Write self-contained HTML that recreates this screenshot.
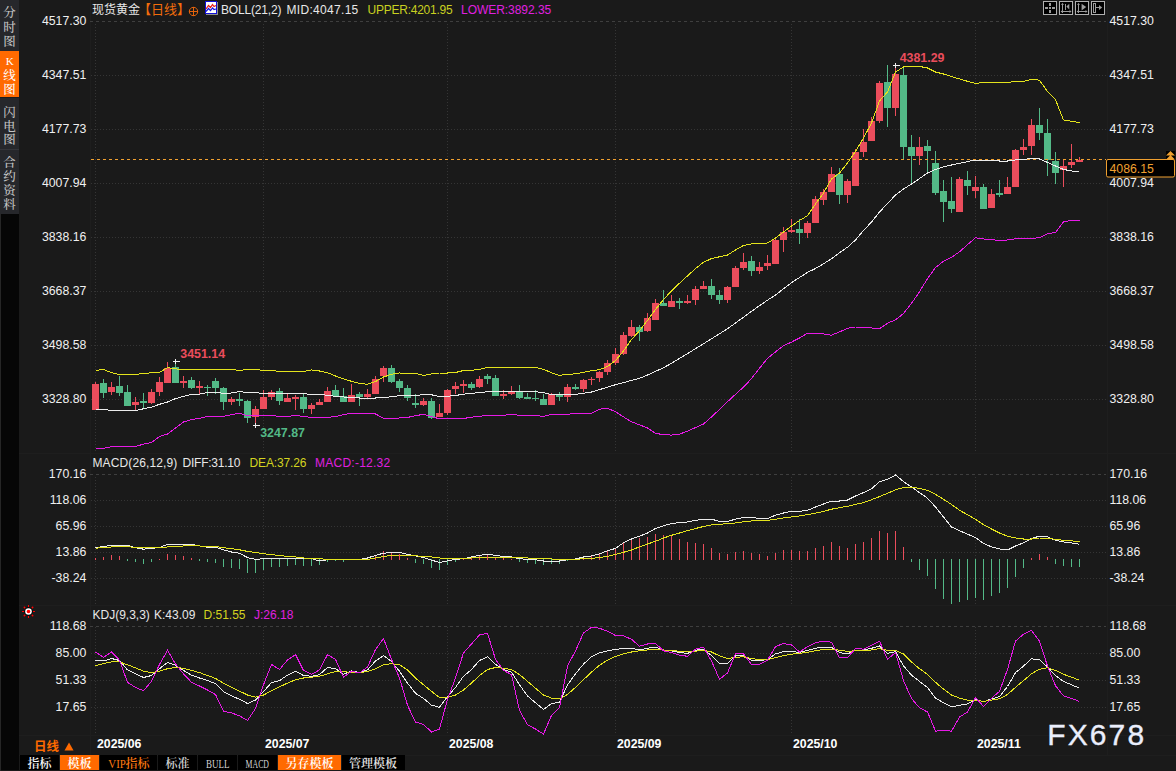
<!DOCTYPE html>
<html><head><meta charset="utf-8"><title>现货黄金 日线</title>
<style>
html,body{margin:0;padding:0;background:#1a1a1a;}
body{width:1176px;height:771px;overflow:hidden;position:relative;font-family:"Liberation Sans","Noto Sans CJK SC",sans-serif;}
svg{position:absolute;left:0;top:0;display:block}
text{font-family:"Liberation Sans","Noto Sans CJK SC",sans-serif;font-size:12px;fill:#e6e6e6}
.ax{font-size:12.3px;fill:#ececec}
.b{font-weight:bold}
.cj{font-family:"Liberation Sans","Noto Sans CJK SC",sans-serif}
.sv{font-family:"Liberation Serif","Noto Serif CJK SC",serif;font-size:12.5px;fill:#c4c4c4;text-anchor:middle;font-weight:500}
.tb{font-family:"Liberation Serif","Noto Serif CJK SC",serif;font-size:12px;text-anchor:middle;font-weight:600}
.mono{font-family:"Liberation Serif","Noto Serif CJK SC",serif;font-size:13px}
</style></head><body>
<svg width="1176" height="771" viewBox="0 0 1176 771">

<rect x="0" y="0" width="1176" height="771" fill="#1a1a1a"/>
<g shape-rendering="crispEdges" fill="#1e1e1e">
<rect x="90" y="0" width="1" height="756"/>
<rect x="1107" y="0" width="1" height="756"/>
<rect x="19" y="453" width="1157" height="1"/>
<rect x="19" y="605" width="1157" height="1"/>
<rect x="19" y="735" width="1157" height="1"/>
<rect x="19" y="755" width="1157" height="1"/>
</g>
<g shape-rendering="crispEdges" fill="none" stroke-width="1">
<line x1="90" y1="21.5" x2="1106" y2="21.5" stroke="#3f3f3f" stroke-dasharray="3 3"/>
<line x1="90" y1="474.5" x2="1106" y2="474.5" stroke="#3f3f3f" stroke-dasharray="3 3"/>
<line x1="90" y1="626.5" x2="1106" y2="626.5" stroke="#3f3f3f" stroke-dasharray="3 3"/>
<line x1="91" y1="75.5" x2="1106" y2="75.5" stroke="#353535" stroke-dasharray="1 2"/>
<line x1="91" y1="129.5" x2="1106" y2="129.5" stroke="#353535" stroke-dasharray="1 2"/>
<line x1="91" y1="183.5" x2="1106" y2="183.5" stroke="#353535" stroke-dasharray="1 2"/>
<line x1="91" y1="237.5" x2="1106" y2="237.5" stroke="#353535" stroke-dasharray="1 2"/>
<line x1="91" y1="291.5" x2="1106" y2="291.5" stroke="#353535" stroke-dasharray="1 2"/>
<line x1="91" y1="345.5" x2="1106" y2="345.5" stroke="#353535" stroke-dasharray="1 2"/>
<line x1="91" y1="399.5" x2="1106" y2="399.5" stroke="#353535" stroke-dasharray="1 2"/>
<line x1="91" y1="500.5" x2="1106" y2="500.5" stroke="#353535" stroke-dasharray="1 2"/>
<line x1="91" y1="526.5" x2="1106" y2="526.5" stroke="#353535" stroke-dasharray="1 2"/>
<line x1="91" y1="552.5" x2="1106" y2="552.5" stroke="#353535" stroke-dasharray="1 2"/>
<line x1="91" y1="578.5" x2="1106" y2="578.5" stroke="#353535" stroke-dasharray="1 2"/>
<line x1="91" y1="653.5" x2="1106" y2="653.5" stroke="#353535" stroke-dasharray="1 2"/>
<line x1="91" y1="680.5" x2="1106" y2="680.5" stroke="#353535" stroke-dasharray="1 2"/>
<line x1="91" y1="707.5" x2="1106" y2="707.5" stroke="#353535" stroke-dasharray="1 2"/>
<line x1="95.5" y1="24" x2="95.5" y2="453" stroke="#353535" stroke-dasharray="1 2"/>
<line x1="95.5" y1="477" x2="95.5" y2="604" stroke="#353535" stroke-dasharray="1 2"/>
<line x1="95.5" y1="627" x2="95.5" y2="735" stroke="#353535" stroke-dasharray="1 2"/>
<line x1="263.5" y1="24" x2="263.5" y2="453" stroke="#353535" stroke-dasharray="1 2"/>
<line x1="263.5" y1="477" x2="263.5" y2="604" stroke="#353535" stroke-dasharray="1 2"/>
<line x1="263.5" y1="627" x2="263.5" y2="735" stroke="#353535" stroke-dasharray="1 2"/>
<line x1="447.5" y1="24" x2="447.5" y2="453" stroke="#353535" stroke-dasharray="1 2"/>
<line x1="447.5" y1="477" x2="447.5" y2="604" stroke="#353535" stroke-dasharray="1 2"/>
<line x1="447.5" y1="627" x2="447.5" y2="735" stroke="#353535" stroke-dasharray="1 2"/>
<line x1="615.5" y1="24" x2="615.5" y2="453" stroke="#353535" stroke-dasharray="1 2"/>
<line x1="615.5" y1="477" x2="615.5" y2="604" stroke="#353535" stroke-dasharray="1 2"/>
<line x1="615.5" y1="627" x2="615.5" y2="735" stroke="#353535" stroke-dasharray="1 2"/>
<line x1="791.5" y1="24" x2="791.5" y2="453" stroke="#353535" stroke-dasharray="1 2"/>
<line x1="791.5" y1="477" x2="791.5" y2="604" stroke="#353535" stroke-dasharray="1 2"/>
<line x1="791.5" y1="627" x2="791.5" y2="735" stroke="#353535" stroke-dasharray="1 2"/>
<line x1="975.5" y1="24" x2="975.5" y2="453" stroke="#353535" stroke-dasharray="1 2"/>
<line x1="975.5" y1="477" x2="975.5" y2="604" stroke="#353535" stroke-dasharray="1 2"/>
<line x1="975.5" y1="627" x2="975.5" y2="735" stroke="#353535" stroke-dasharray="1 2"/>
</g>
<g shape-rendering="crispEdges">
<rect x="95" y="382" width="1" height="28" fill="#eb4d5c"/>
<rect x="92" y="384" width="7" height="26" fill="#eb4d5c"/>
<rect x="103" y="379" width="1" height="19" fill="#53b987"/>
<rect x="100" y="383" width="7" height="10" fill="#53b987"/>
<rect x="111" y="382" width="1" height="13" fill="#eb4d5c"/>
<rect x="108" y="387" width="7" height="5" fill="#eb4d5c"/>
<rect x="119" y="376" width="1" height="20" fill="#53b987"/>
<rect x="116" y="386" width="7" height="7" fill="#53b987"/>
<rect x="127" y="385" width="1" height="21" fill="#53b987"/>
<rect x="124" y="392" width="7" height="14" fill="#53b987"/>
<rect x="135" y="397" width="1" height="13" fill="#eb4d5c"/>
<rect x="132" y="402" width="7" height="3" fill="#eb4d5c"/>
<rect x="143" y="393" width="1" height="15" fill="#53b987"/>
<rect x="140" y="401" width="7" height="2" fill="#53b987"/>
<rect x="151" y="389" width="1" height="15" fill="#eb4d5c"/>
<rect x="148" y="392" width="7" height="11" fill="#eb4d5c"/>
<rect x="159" y="377" width="1" height="19" fill="#eb4d5c"/>
<rect x="156" y="382" width="7" height="10" fill="#eb4d5c"/>
<rect x="167" y="362" width="1" height="21" fill="#eb4d5c"/>
<rect x="164" y="368" width="7" height="15" fill="#eb4d5c"/>
<rect x="175" y="361" width="1" height="22" fill="#53b987"/>
<rect x="172" y="367" width="7" height="16" fill="#53b987"/>
<rect x="183" y="376" width="1" height="12" fill="#eb4d5c"/>
<rect x="180" y="381" width="7" height="2" fill="#eb4d5c"/>
<rect x="191" y="377" width="1" height="12" fill="#53b987"/>
<rect x="188" y="380" width="7" height="8" fill="#53b987"/>
<rect x="199" y="381" width="1" height="13" fill="#eb4d5c"/>
<rect x="196" y="386" width="7" height="2" fill="#eb4d5c"/>
<rect x="207" y="385" width="1" height="11" fill="#53b987"/>
<rect x="204" y="387" width="7" height="1" fill="#53b987"/>
<rect x="215" y="378" width="1" height="16" fill="#53b987"/>
<rect x="212" y="381" width="7" height="7" fill="#53b987"/>
<rect x="223" y="387" width="1" height="23" fill="#53b987"/>
<rect x="220" y="388" width="7" height="14" fill="#53b987"/>
<rect x="231" y="397" width="1" height="8" fill="#eb4d5c"/>
<rect x="228" y="399" width="7" height="3" fill="#eb4d5c"/>
<rect x="239" y="393" width="1" height="13" fill="#53b987"/>
<rect x="236" y="399" width="7" height="2" fill="#53b987"/>
<rect x="247" y="400" width="1" height="23" fill="#53b987"/>
<rect x="244" y="401" width="7" height="17" fill="#53b987"/>
<rect x="255" y="406" width="1" height="19" fill="#eb4d5c"/>
<rect x="252" y="409" width="7" height="8" fill="#eb4d5c"/>
<rect x="263" y="390" width="1" height="19" fill="#eb4d5c"/>
<rect x="260" y="397" width="7" height="12" fill="#eb4d5c"/>
<rect x="271" y="390" width="1" height="10" fill="#eb4d5c"/>
<rect x="268" y="392" width="7" height="5" fill="#eb4d5c"/>
<rect x="279" y="388" width="1" height="17" fill="#53b987"/>
<rect x="276" y="391" width="7" height="10" fill="#53b987"/>
<rect x="287" y="394" width="1" height="8" fill="#eb4d5c"/>
<rect x="284" y="398" width="7" height="4" fill="#eb4d5c"/>
<rect x="295" y="395" width="1" height="15" fill="#eb4d5c"/>
<rect x="292" y="397" width="7" height="2" fill="#eb4d5c"/>
<rect x="303" y="394" width="1" height="19" fill="#53b987"/>
<rect x="300" y="397" width="7" height="12" fill="#53b987"/>
<rect x="311" y="403" width="1" height="11" fill="#eb4d5c"/>
<rect x="308" y="405" width="7" height="4" fill="#eb4d5c"/>
<rect x="319" y="399" width="1" height="6" fill="#eb4d5c"/>
<rect x="316" y="402" width="7" height="3" fill="#eb4d5c"/>
<rect x="327" y="387" width="1" height="15" fill="#eb4d5c"/>
<rect x="324" y="391" width="7" height="11" fill="#eb4d5c"/>
<rect x="335" y="385" width="1" height="11" fill="#53b987"/>
<rect x="332" y="390" width="7" height="6" fill="#53b987"/>
<rect x="343" y="388" width="1" height="14" fill="#53b987"/>
<rect x="340" y="396" width="7" height="6" fill="#53b987"/>
<rect x="351" y="384" width="1" height="18" fill="#eb4d5c"/>
<rect x="348" y="395" width="7" height="7" fill="#eb4d5c"/>
<rect x="359" y="392" width="1" height="14" fill="#53b987"/>
<rect x="356" y="394" width="7" height="3" fill="#53b987"/>
<rect x="367" y="389" width="1" height="9" fill="#eb4d5c"/>
<rect x="364" y="394" width="7" height="3" fill="#eb4d5c"/>
<rect x="375" y="376" width="1" height="18" fill="#eb4d5c"/>
<rect x="372" y="379" width="7" height="15" fill="#eb4d5c"/>
<rect x="383" y="366" width="1" height="16" fill="#eb4d5c"/>
<rect x="380" y="368" width="7" height="8" fill="#eb4d5c"/>
<rect x="391" y="365" width="1" height="18" fill="#53b987"/>
<rect x="388" y="368" width="7" height="14" fill="#53b987"/>
<rect x="399" y="379" width="1" height="13" fill="#53b987"/>
<rect x="396" y="381" width="7" height="7" fill="#53b987"/>
<rect x="407" y="385" width="1" height="16" fill="#53b987"/>
<rect x="404" y="388" width="7" height="10" fill="#53b987"/>
<rect x="415" y="394" width="1" height="14" fill="#53b987"/>
<rect x="412" y="403" width="7" height="2" fill="#53b987"/>
<rect x="423" y="398" width="1" height="8" fill="#eb4d5c"/>
<rect x="420" y="401" width="7" height="4" fill="#eb4d5c"/>
<rect x="431" y="398" width="1" height="21" fill="#53b987"/>
<rect x="428" y="401" width="7" height="17" fill="#53b987"/>
<rect x="439" y="404" width="1" height="13" fill="#eb4d5c"/>
<rect x="436" y="413" width="7" height="4" fill="#eb4d5c"/>
<rect x="447" y="389" width="1" height="26" fill="#eb4d5c"/>
<rect x="444" y="390" width="7" height="23" fill="#eb4d5c"/>
<rect x="455" y="382" width="1" height="12" fill="#eb4d5c"/>
<rect x="452" y="386" width="7" height="3" fill="#eb4d5c"/>
<rect x="463" y="380" width="1" height="13" fill="#eb4d5c"/>
<rect x="460" y="384" width="7" height="2" fill="#eb4d5c"/>
<rect x="471" y="382" width="1" height="8" fill="#53b987"/>
<rect x="468" y="384" width="7" height="4" fill="#53b987"/>
<rect x="479" y="376" width="1" height="12" fill="#eb4d5c"/>
<rect x="476" y="379" width="7" height="8" fill="#eb4d5c"/>
<rect x="487" y="374" width="1" height="10" fill="#53b987"/>
<rect x="484" y="376" width="7" height="3" fill="#53b987"/>
<rect x="495" y="375" width="1" height="21" fill="#53b987"/>
<rect x="492" y="378" width="7" height="18" fill="#53b987"/>
<rect x="503" y="390" width="1" height="9" fill="#eb4d5c"/>
<rect x="500" y="394" width="7" height="2" fill="#eb4d5c"/>
<rect x="511" y="386" width="1" height="9" fill="#eb4d5c"/>
<rect x="508" y="392" width="7" height="2" fill="#eb4d5c"/>
<rect x="519" y="385" width="1" height="14" fill="#53b987"/>
<rect x="516" y="392" width="7" height="6" fill="#53b987"/>
<rect x="527" y="393" width="1" height="6" fill="#53b987"/>
<rect x="524" y="397" width="7" height="2" fill="#53b987"/>
<rect x="535" y="390" width="1" height="11" fill="#53b987"/>
<rect x="532" y="398" width="7" height="1" fill="#53b987"/>
<rect x="543" y="394" width="1" height="11" fill="#53b987"/>
<rect x="540" y="399" width="7" height="6" fill="#53b987"/>
<rect x="551" y="393" width="1" height="12" fill="#eb4d5c"/>
<rect x="548" y="394" width="7" height="11" fill="#eb4d5c"/>
<rect x="559" y="392" width="1" height="9" fill="#53b987"/>
<rect x="556" y="395" width="7" height="2" fill="#53b987"/>
<rect x="567" y="384" width="1" height="18" fill="#eb4d5c"/>
<rect x="564" y="387" width="7" height="10" fill="#eb4d5c"/>
<rect x="575" y="384" width="1" height="6" fill="#53b987"/>
<rect x="572" y="387" width="7" height="2" fill="#53b987"/>
<rect x="583" y="379" width="1" height="13" fill="#eb4d5c"/>
<rect x="580" y="380" width="7" height="9" fill="#eb4d5c"/>
<rect x="591" y="377" width="1" height="8" fill="#eb4d5c"/>
<rect x="588" y="379" width="7" height="1" fill="#eb4d5c"/>
<rect x="599" y="371" width="1" height="11" fill="#eb4d5c"/>
<rect x="596" y="372" width="7" height="6" fill="#eb4d5c"/>
<rect x="607" y="360" width="1" height="15" fill="#eb4d5c"/>
<rect x="604" y="363" width="7" height="9" fill="#eb4d5c"/>
<rect x="615" y="348" width="1" height="17" fill="#eb4d5c"/>
<rect x="612" y="354" width="7" height="9" fill="#eb4d5c"/>
<rect x="623" y="332" width="1" height="23" fill="#eb4d5c"/>
<rect x="620" y="335" width="7" height="19" fill="#eb4d5c"/>
<rect x="631" y="320" width="1" height="17" fill="#eb4d5c"/>
<rect x="628" y="327" width="7" height="9" fill="#eb4d5c"/>
<rect x="639" y="325" width="1" height="16" fill="#53b987"/>
<rect x="636" y="327" width="7" height="5" fill="#53b987"/>
<rect x="647" y="313" width="1" height="19" fill="#eb4d5c"/>
<rect x="644" y="318" width="7" height="13" fill="#eb4d5c"/>
<rect x="655" y="299" width="1" height="21" fill="#eb4d5c"/>
<rect x="652" y="303" width="7" height="17" fill="#eb4d5c"/>
<rect x="663" y="290" width="1" height="16" fill="#53b987"/>
<rect x="660" y="303" width="7" height="3" fill="#53b987"/>
<rect x="671" y="295" width="1" height="12" fill="#eb4d5c"/>
<rect x="668" y="301" width="7" height="6" fill="#eb4d5c"/>
<rect x="679" y="298" width="1" height="11" fill="#53b987"/>
<rect x="676" y="301" width="7" height="2" fill="#53b987"/>
<rect x="687" y="295" width="1" height="9" fill="#eb4d5c"/>
<rect x="684" y="301" width="7" height="2" fill="#eb4d5c"/>
<rect x="695" y="286" width="1" height="19" fill="#eb4d5c"/>
<rect x="692" y="289" width="7" height="11" fill="#eb4d5c"/>
<rect x="703" y="281" width="1" height="8" fill="#eb4d5c"/>
<rect x="700" y="286" width="7" height="3" fill="#eb4d5c"/>
<rect x="711" y="279" width="1" height="20" fill="#53b987"/>
<rect x="708" y="286" width="7" height="9" fill="#53b987"/>
<rect x="719" y="290" width="1" height="14" fill="#53b987"/>
<rect x="716" y="295" width="7" height="5" fill="#53b987"/>
<rect x="727" y="286" width="1" height="17" fill="#eb4d5c"/>
<rect x="724" y="287" width="7" height="13" fill="#eb4d5c"/>
<rect x="735" y="266" width="1" height="21" fill="#eb4d5c"/>
<rect x="732" y="268" width="7" height="19" fill="#eb4d5c"/>
<rect x="743" y="253" width="1" height="17" fill="#eb4d5c"/>
<rect x="740" y="262" width="7" height="6" fill="#eb4d5c"/>
<rect x="751" y="256" width="1" height="20" fill="#53b987"/>
<rect x="748" y="261" width="7" height="10" fill="#53b987"/>
<rect x="759" y="262" width="1" height="12" fill="#eb4d5c"/>
<rect x="756" y="267" width="7" height="4" fill="#eb4d5c"/>
<rect x="767" y="255" width="1" height="15" fill="#eb4d5c"/>
<rect x="764" y="263" width="7" height="3" fill="#eb4d5c"/>
<rect x="775" y="239" width="1" height="25" fill="#eb4d5c"/>
<rect x="772" y="240" width="7" height="24" fill="#eb4d5c"/>
<rect x="783" y="227" width="1" height="25" fill="#eb4d5c"/>
<rect x="780" y="232" width="7" height="8" fill="#eb4d5c"/>
<rect x="791" y="219" width="1" height="14" fill="#eb4d5c"/>
<rect x="788" y="230" width="7" height="2" fill="#eb4d5c"/>
<rect x="799" y="219" width="1" height="25" fill="#53b987"/>
<rect x="796" y="229" width="7" height="4" fill="#53b987"/>
<rect x="807" y="221" width="1" height="17" fill="#eb4d5c"/>
<rect x="804" y="223" width="7" height="10" fill="#eb4d5c"/>
<rect x="815" y="196" width="1" height="27" fill="#eb4d5c"/>
<rect x="812" y="199" width="7" height="24" fill="#eb4d5c"/>
<rect x="823" y="189" width="1" height="16" fill="#eb4d5c"/>
<rect x="820" y="192" width="7" height="8" fill="#eb4d5c"/>
<rect x="831" y="167" width="1" height="25" fill="#eb4d5c"/>
<rect x="828" y="174" width="7" height="18" fill="#eb4d5c"/>
<rect x="839" y="168" width="1" height="36" fill="#53b987"/>
<rect x="836" y="174" width="7" height="21" fill="#53b987"/>
<rect x="847" y="179" width="1" height="24" fill="#eb4d5c"/>
<rect x="844" y="181" width="7" height="14" fill="#eb4d5c"/>
<rect x="855" y="149" width="1" height="37" fill="#eb4d5c"/>
<rect x="852" y="152" width="7" height="34" fill="#eb4d5c"/>
<rect x="863" y="129" width="1" height="28" fill="#eb4d5c"/>
<rect x="860" y="142" width="7" height="10" fill="#eb4d5c"/>
<rect x="871" y="117" width="1" height="24" fill="#eb4d5c"/>
<rect x="868" y="121" width="7" height="20" fill="#eb4d5c"/>
<rect x="879" y="81" width="1" height="42" fill="#eb4d5c"/>
<rect x="876" y="83" width="7" height="38" fill="#eb4d5c"/>
<rect x="887" y="65" width="1" height="62" fill="#53b987"/>
<rect x="884" y="82" width="7" height="26" fill="#53b987"/>
<rect x="895" y="65" width="1" height="51" fill="#eb4d5c"/>
<rect x="892" y="74" width="7" height="34" fill="#eb4d5c"/>
<rect x="903" y="68" width="1" height="91" fill="#53b987"/>
<rect x="900" y="75" width="7" height="72" fill="#53b987"/>
<rect x="911" y="135" width="1" height="50" fill="#53b987"/>
<rect x="908" y="147" width="7" height="9" fill="#53b987"/>
<rect x="919" y="137" width="1" height="28" fill="#eb4d5c"/>
<rect x="916" y="147" width="7" height="9" fill="#eb4d5c"/>
<rect x="927" y="140" width="1" height="32" fill="#53b987"/>
<rect x="924" y="146" width="7" height="5" fill="#53b987"/>
<rect x="935" y="151" width="1" height="44" fill="#53b987"/>
<rect x="932" y="163" width="7" height="30" fill="#53b987"/>
<rect x="943" y="180" width="1" height="42" fill="#53b987"/>
<rect x="940" y="191" width="7" height="11" fill="#53b987"/>
<rect x="951" y="177" width="1" height="36" fill="#53b987"/>
<rect x="948" y="201" width="7" height="8" fill="#53b987"/>
<rect x="959" y="177" width="1" height="35" fill="#eb4d5c"/>
<rect x="956" y="179" width="7" height="33" fill="#eb4d5c"/>
<rect x="967" y="171" width="1" height="24" fill="#53b987"/>
<rect x="964" y="180" width="7" height="6" fill="#53b987"/>
<rect x="975" y="176" width="1" height="22" fill="#eb4d5c"/>
<rect x="972" y="187" width="7" height="4" fill="#eb4d5c"/>
<rect x="983" y="184" width="1" height="25" fill="#53b987"/>
<rect x="980" y="187" width="7" height="22" fill="#53b987"/>
<rect x="991" y="189" width="1" height="19" fill="#eb4d5c"/>
<rect x="988" y="194" width="7" height="14" fill="#eb4d5c"/>
<rect x="999" y="180" width="1" height="17" fill="#53b987"/>
<rect x="996" y="193" width="7" height="2" fill="#53b987"/>
<rect x="1007" y="177" width="1" height="17" fill="#eb4d5c"/>
<rect x="1004" y="187" width="7" height="7" fill="#eb4d5c"/>
<rect x="1015" y="149" width="1" height="38" fill="#eb4d5c"/>
<rect x="1012" y="150" width="7" height="37" fill="#eb4d5c"/>
<rect x="1023" y="139" width="1" height="16" fill="#eb4d5c"/>
<rect x="1020" y="147" width="7" height="3" fill="#eb4d5c"/>
<rect x="1031" y="119" width="1" height="36" fill="#eb4d5c"/>
<rect x="1028" y="125" width="7" height="21" fill="#eb4d5c"/>
<rect x="1039" y="108" width="1" height="32" fill="#53b987"/>
<rect x="1036" y="125" width="7" height="8" fill="#53b987"/>
<rect x="1047" y="119" width="1" height="57" fill="#53b987"/>
<rect x="1044" y="133" width="7" height="27" fill="#53b987"/>
<rect x="1055" y="152" width="1" height="32" fill="#53b987"/>
<rect x="1052" y="161" width="7" height="12" fill="#53b987"/>
<rect x="1063" y="160" width="1" height="27" fill="#eb4d5c"/>
<rect x="1060" y="166" width="7" height="4" fill="#eb4d5c"/>
<rect x="1071" y="144" width="1" height="24" fill="#eb4d5c"/>
<rect x="1068" y="162" width="7" height="3" fill="#eb4d5c"/>
<rect x="1079" y="157" width="1" height="5" fill="#eb4d5c"/>
<rect x="1076" y="160" width="7" height="2" fill="#eb4d5c"/>
</g>
<line x1="91" y1="159.5" x2="1106" y2="159.5" stroke="#f0a030" stroke-width="1" stroke-dasharray="3 3" shape-rendering="crispEdges"/>
<polyline points="95.5,370.4 103.5,369.5 111.5,372.7 119.5,374.5 127.5,374.5 135.5,374.5 143.5,373.5 151.5,372.8 159.5,372.4 167.5,367.6 175.5,368.8 183.5,370.0 191.5,369.7 199.5,369.4 207.5,369.4 215.5,369.4 223.5,369.4 231.5,369.4 239.5,370.5 247.5,369.4 255.5,369.4 263.5,370.5 271.5,370.5 279.5,371.4 287.5,371.4 295.5,371.4 303.5,371.4 311.5,370.0 319.5,371.0 327.5,372.7 335.5,376.0 343.5,378.8 351.5,381.3 359.5,383.5 367.5,384.3 375.5,381.5 383.5,377.0 391.5,374.3 399.5,373.0 407.5,373.2 415.5,373.5 423.5,375.4 431.5,374.0 439.5,373.0 447.5,373.0 455.5,372.5 463.5,370.5 471.5,370.4 479.5,369.3 487.5,367.4 495.5,367.4 503.5,367.4 511.5,367.4 519.5,367.4 527.5,367.4 535.5,367.4 543.5,369.3 551.5,372.7 559.5,375.4 567.5,374.3 575.5,373.9 583.5,372.4 591.5,370.6 599.5,369.8 607.5,366.5 615.5,360.5 623.5,351.0 631.5,339.5 639.5,330.7 647.5,320.4 655.5,309.5 663.5,299.5 671.5,290.9 679.5,283.2 687.5,275.9 695.5,268.6 703.5,262.3 711.5,258.6 719.5,256.8 727.5,255.0 735.5,250.0 743.5,245.5 751.5,244.0 759.5,243.3 767.5,243.0 775.5,238.0 783.5,232.0 791.5,226.0 799.5,220.5 807.5,215.7 815.5,204.0 823.5,193.0 831.5,179.0 839.5,173.0 847.5,163.0 855.5,151.4 863.5,138.0 871.5,123.0 879.5,101.0 887.5,92.0 895.5,72.0 903.5,67.0 911.5,66.4 919.5,66.4 927.5,68.0 935.5,72.0 943.5,74.0 951.5,76.6 959.5,78.9 967.5,81.3 975.5,83.4 983.5,82.4 991.5,82.4 999.5,82.4 1007.5,82.4 1015.5,81.6 1023.5,81.5 1031.5,79.3 1039.5,80.2 1047.5,91.5 1055.5,99.7 1063.5,120.0 1071.5,121.2 1079.5,122.6" fill="none" stroke="#e3e31c" stroke-width="1" shape-rendering="crispEdges" />
<polyline points="95.5,409.4 103.5,409.4 111.5,410.5 119.5,410.5 127.5,410.5 135.5,410.5 143.5,408.8 151.5,407.2 159.5,404.3 167.5,402.0 175.5,398.6 183.5,396.4 191.5,394.4 199.5,394.2 207.5,392.5 215.5,392.3 223.5,393.4 231.5,393.0 239.5,391.5 247.5,392.6 255.5,392.6 263.5,393.5 271.5,393.5 279.5,393.5 287.5,393.5 295.5,393.5 303.5,393.7 311.5,394.5 319.5,394.5 327.5,395.3 335.5,396.3 343.5,397.0 351.5,397.5 359.5,398.0 367.5,398.0 375.5,398.0 383.5,397.5 391.5,396.8 399.5,395.7 407.5,395.6 415.5,395.5 423.5,394.6 431.5,394.8 439.5,396.5 447.5,396.2 455.5,395.5 463.5,394.2 471.5,393.3 479.5,392.6 487.5,391.7 495.5,391.7 503.5,391.7 511.5,391.7 519.5,391.7 527.5,391.7 535.5,391.7 543.5,392.6 551.5,394.5 559.5,395.0 567.5,394.7 575.5,394.3 583.5,393.3 591.5,392.0 599.5,389.6 607.5,387.2 615.5,384.7 623.5,382.6 631.5,380.4 639.5,378.3 647.5,375.0 655.5,371.4 663.5,367.7 671.5,363.3 679.5,358.4 687.5,353.6 695.5,348.7 703.5,343.8 711.5,338.8 719.5,333.8 727.5,328.8 735.5,323.0 743.5,317.2 751.5,311.4 759.5,305.7 767.5,300.2 775.5,295.0 783.5,288.8 791.5,282.6 799.5,277.5 807.5,272.4 815.5,268.5 823.5,263.8 831.5,258.7 839.5,252.8 847.5,247.2 855.5,240.0 863.5,230.5 871.5,222.0 879.5,212.0 887.5,203.5 895.5,195.0 903.5,189.0 911.5,184.0 919.5,178.6 927.5,173.0 935.5,169.4 943.5,166.8 951.5,165.0 959.5,163.3 967.5,161.6 975.5,160.0 983.5,160.0 991.5,160.0 999.5,161.0 1007.5,161.0 1015.5,160.0 1023.5,159.4 1031.5,158.4 1039.5,159.0 1047.5,162.4 1055.5,166.0 1063.5,169.4 1071.5,171.0 1079.5,171.2" fill="none" stroke="#ececec" stroke-width="1" shape-rendering="crispEdges" />
<polyline points="95.5,448.4 103.5,448.4 111.5,446.7 119.5,446.5 127.5,446.5 135.5,446.4 143.5,444.2 151.5,442.5 159.5,436.5 167.5,434.0 175.5,428.0 183.5,422.0 191.5,419.5 199.5,418.3 207.5,416.5 215.5,416.2 223.5,416.4 231.5,414.7 239.5,413.3 247.5,415.6 255.5,415.6 263.5,415.6 271.5,415.6 279.5,416.4 287.5,416.4 295.5,415.6 303.5,416.4 311.5,417.5 319.5,417.5 327.5,417.5 335.5,416.5 343.5,414.7 351.5,413.3 359.5,413.3 367.5,413.3 375.5,414.0 383.5,418.2 391.5,418.2 399.5,418.0 407.5,417.5 415.5,415.6 423.5,414.4 431.5,416.4 439.5,419.0 447.5,418.2 455.5,418.2 463.5,418.5 471.5,417.2 479.5,416.3 487.5,415.4 495.5,415.4 503.5,415.4 511.5,414.3 519.5,415.4 527.5,415.4 535.5,415.4 543.5,416.5 551.5,414.3 559.5,414.3 567.5,414.1 575.5,413.8 583.5,413.5 591.5,413.2 599.5,409.2 607.5,408.2 615.5,411.8 623.5,416.9 631.5,421.8 639.5,424.9 647.5,427.9 655.5,433.4 663.5,434.6 671.5,435.1 679.5,434.2 687.5,431.1 695.5,427.6 703.5,424.0 711.5,416.9 719.5,409.4 727.5,401.7 735.5,394.3 743.5,387.1 751.5,378.6 759.5,368.2 767.5,358.4 775.5,351.9 783.5,345.6 791.5,342.1 799.5,338.0 807.5,333.2 815.5,333.4 823.5,333.9 831.5,335.2 839.5,331.9 847.5,328.3 855.5,327.0 863.5,327.0 871.5,328.0 879.5,328.8 887.5,323.2 895.5,319.9 903.5,313.5 911.5,303.3 919.5,291.8 927.5,278.6 935.5,267.6 943.5,261.2 951.5,257.4 959.5,251.8 967.5,244.6 975.5,237.8 983.5,239.0 991.5,239.5 999.5,240.8 1007.5,240.0 1015.5,238.8 1023.5,238.3 1031.5,238.3 1039.5,237.8 1047.5,233.7 1055.5,232.4 1063.5,221.7 1071.5,220.4 1079.5,220.4" fill="none" stroke="#e619e6" stroke-width="1" shape-rendering="crispEdges" />
<g shape-rendering="crispEdges" fill="#f0f0f0"><rect x="173" y="361" width="7" height="1"/><rect x="175" y="359" width="1" height="5"/></g>
<g shape-rendering="crispEdges" fill="#f0f0f0"><rect x="253" y="425" width="7" height="1"/><rect x="255" y="423" width="1" height="5"/></g>
<g shape-rendering="crispEdges" fill="#f0f0f0"><rect x="893" y="65" width="7" height="1"/><rect x="895" y="63" width="1" height="5"/></g>
<g shape-rendering="crispEdges">
<rect x="95" y="558" width="1" height="2" fill="#eb4d5c"/>
<rect x="103" y="557" width="1" height="3" fill="#eb4d5c"/>
<rect x="111" y="555" width="1" height="5" fill="#eb4d5c"/>
<rect x="119" y="556" width="1" height="4" fill="#eb4d5c"/>
<rect x="127" y="559" width="1" height="2" fill="#53b987"/>
<rect x="135" y="559" width="1" height="3" fill="#53b987"/>
<rect x="143" y="559" width="1" height="5" fill="#53b987"/>
<rect x="151" y="559" width="1" height="3" fill="#53b987"/>
<rect x="159" y="559" width="1" height="1" fill="#eb4d5c"/>
<rect x="167" y="554" width="1" height="6" fill="#eb4d5c"/>
<rect x="175" y="555" width="1" height="5" fill="#eb4d5c"/>
<rect x="183" y="556" width="1" height="4" fill="#eb4d5c"/>
<rect x="191" y="558" width="1" height="2" fill="#eb4d5c"/>
<rect x="199" y="559" width="1" height="2" fill="#53b987"/>
<rect x="207" y="559" width="1" height="3" fill="#53b987"/>
<rect x="215" y="559" width="1" height="4" fill="#53b987"/>
<rect x="223" y="559" width="1" height="8" fill="#53b987"/>
<rect x="231" y="559" width="1" height="9" fill="#53b987"/>
<rect x="239" y="559" width="1" height="10" fill="#53b987"/>
<rect x="247" y="559" width="1" height="14" fill="#53b987"/>
<rect x="255" y="559" width="1" height="14" fill="#53b987"/>
<rect x="263" y="559" width="1" height="11" fill="#53b987"/>
<rect x="271" y="559" width="1" height="8" fill="#53b987"/>
<rect x="279" y="559" width="1" height="8" fill="#53b987"/>
<rect x="287" y="559" width="1" height="7" fill="#53b987"/>
<rect x="295" y="559" width="1" height="6" fill="#53b987"/>
<rect x="303" y="559" width="1" height="7" fill="#53b987"/>
<rect x="311" y="559" width="1" height="7" fill="#53b987"/>
<rect x="319" y="559" width="1" height="6" fill="#53b987"/>
<rect x="327" y="559" width="1" height="3" fill="#53b987"/>
<rect x="335" y="559" width="1" height="2" fill="#53b987"/>
<rect x="343" y="559" width="1" height="3" fill="#53b987"/>
<rect x="351" y="559" width="1" height="1" fill="#53b987"/>
<rect x="359" y="559" width="1" height="1" fill="#eb4d5c"/>
<rect x="367" y="558" width="1" height="2" fill="#eb4d5c"/>
<rect x="375" y="555" width="1" height="5" fill="#eb4d5c"/>
<rect x="383" y="551" width="1" height="9" fill="#eb4d5c"/>
<rect x="391" y="552" width="1" height="8" fill="#eb4d5c"/>
<rect x="399" y="554" width="1" height="6" fill="#eb4d5c"/>
<rect x="407" y="558" width="1" height="2" fill="#eb4d5c"/>
<rect x="415" y="559" width="1" height="4" fill="#53b987"/>
<rect x="423" y="559" width="1" height="5" fill="#53b987"/>
<rect x="431" y="559" width="1" height="9" fill="#53b987"/>
<rect x="439" y="559" width="1" height="11" fill="#53b987"/>
<rect x="447" y="559" width="1" height="6" fill="#53b987"/>
<rect x="455" y="559" width="1" height="3" fill="#53b987"/>
<rect x="463" y="559" width="1" height="1" fill="#eb4d5c"/>
<rect x="471" y="557" width="1" height="3" fill="#eb4d5c"/>
<rect x="479" y="555" width="1" height="5" fill="#eb4d5c"/>
<rect x="487" y="554" width="1" height="6" fill="#eb4d5c"/>
<rect x="495" y="557" width="1" height="3" fill="#eb4d5c"/>
<rect x="503" y="558" width="1" height="2" fill="#eb4d5c"/>
<rect x="511" y="559" width="1" height="1" fill="#eb4d5c"/>
<rect x="519" y="559" width="1" height="3" fill="#53b987"/>
<rect x="527" y="559" width="1" height="4" fill="#53b987"/>
<rect x="535" y="559" width="1" height="5" fill="#53b987"/>
<rect x="543" y="559" width="1" height="6" fill="#53b987"/>
<rect x="551" y="559" width="1" height="5" fill="#53b987"/>
<rect x="559" y="559" width="1" height="5" fill="#53b987"/>
<rect x="567" y="559" width="1" height="2" fill="#53b987"/>
<rect x="575" y="559" width="1" height="1" fill="#eb4d5c"/>
<rect x="583" y="556" width="1" height="4" fill="#eb4d5c"/>
<rect x="591" y="555" width="1" height="5" fill="#eb4d5c"/>
<rect x="599" y="553" width="1" height="7" fill="#eb4d5c"/>
<rect x="607" y="551" width="1" height="9" fill="#eb4d5c"/>
<rect x="615" y="548" width="1" height="12" fill="#eb4d5c"/>
<rect x="623" y="542" width="1" height="18" fill="#eb4d5c"/>
<rect x="631" y="538" width="1" height="22" fill="#eb4d5c"/>
<rect x="639" y="538" width="1" height="22" fill="#eb4d5c"/>
<rect x="647" y="537" width="1" height="23" fill="#eb4d5c"/>
<rect x="655" y="534" width="1" height="26" fill="#eb4d5c"/>
<rect x="663" y="535" width="1" height="25" fill="#eb4d5c"/>
<rect x="671" y="536" width="1" height="24" fill="#eb4d5c"/>
<rect x="679" y="539" width="1" height="21" fill="#eb4d5c"/>
<rect x="687" y="542" width="1" height="18" fill="#eb4d5c"/>
<rect x="695" y="543" width="1" height="17" fill="#eb4d5c"/>
<rect x="703" y="544" width="1" height="16" fill="#eb4d5c"/>
<rect x="711" y="548" width="1" height="12" fill="#eb4d5c"/>
<rect x="719" y="553" width="1" height="7" fill="#eb4d5c"/>
<rect x="727" y="554" width="1" height="6" fill="#eb4d5c"/>
<rect x="735" y="552" width="1" height="8" fill="#eb4d5c"/>
<rect x="743" y="551" width="1" height="9" fill="#eb4d5c"/>
<rect x="751" y="553" width="1" height="7" fill="#eb4d5c"/>
<rect x="759" y="554" width="1" height="6" fill="#eb4d5c"/>
<rect x="767" y="556" width="1" height="4" fill="#eb4d5c"/>
<rect x="775" y="553" width="1" height="7" fill="#eb4d5c"/>
<rect x="783" y="550" width="1" height="10" fill="#eb4d5c"/>
<rect x="791" y="550" width="1" height="10" fill="#eb4d5c"/>
<rect x="799" y="551" width="1" height="9" fill="#eb4d5c"/>
<rect x="807" y="551" width="1" height="9" fill="#eb4d5c"/>
<rect x="815" y="548" width="1" height="12" fill="#eb4d5c"/>
<rect x="823" y="546" width="1" height="14" fill="#eb4d5c"/>
<rect x="831" y="542" width="1" height="18" fill="#eb4d5c"/>
<rect x="839" y="546" width="1" height="14" fill="#eb4d5c"/>
<rect x="847" y="548" width="1" height="12" fill="#eb4d5c"/>
<rect x="855" y="544" width="1" height="16" fill="#eb4d5c"/>
<rect x="863" y="542" width="1" height="18" fill="#eb4d5c"/>
<rect x="871" y="538" width="1" height="22" fill="#eb4d5c"/>
<rect x="879" y="531" width="1" height="29" fill="#eb4d5c"/>
<rect x="887" y="533" width="1" height="27" fill="#eb4d5c"/>
<rect x="895" y="531" width="1" height="29" fill="#eb4d5c"/>
<rect x="903" y="547" width="1" height="13" fill="#eb4d5c"/>
<rect x="911" y="559" width="1" height="3" fill="#53b987"/>
<rect x="919" y="559" width="1" height="11" fill="#53b987"/>
<rect x="927" y="559" width="1" height="17" fill="#53b987"/>
<rect x="935" y="559" width="1" height="30" fill="#53b987"/>
<rect x="943" y="559" width="1" height="40" fill="#53b987"/>
<rect x="951" y="559" width="1" height="45" fill="#53b987"/>
<rect x="959" y="559" width="1" height="43" fill="#53b987"/>
<rect x="967" y="559" width="1" height="41" fill="#53b987"/>
<rect x="975" y="559" width="1" height="39" fill="#53b987"/>
<rect x="983" y="559" width="1" height="41" fill="#53b987"/>
<rect x="991" y="559" width="1" height="37" fill="#53b987"/>
<rect x="999" y="559" width="1" height="34" fill="#53b987"/>
<rect x="1007" y="559" width="1" height="29" fill="#53b987"/>
<rect x="1015" y="559" width="1" height="18" fill="#53b987"/>
<rect x="1023" y="559" width="1" height="9" fill="#53b987"/>
<rect x="1031" y="558" width="1" height="2" fill="#eb4d5c"/>
<rect x="1039" y="554" width="1" height="6" fill="#eb4d5c"/>
<rect x="1047" y="557" width="1" height="3" fill="#eb4d5c"/>
<rect x="1055" y="559" width="1" height="5" fill="#53b987"/>
<rect x="1063" y="559" width="1" height="7" fill="#53b987"/>
<rect x="1071" y="559" width="1" height="8" fill="#53b987"/>
<rect x="1079" y="559" width="1" height="8" fill="#53b987"/>
</g>
<polyline points="95.5,547.6 103.5,546.5 111.5,545.4 119.5,545.4 127.5,545.4 135.5,547.6 143.5,549.2 151.5,548.3 159.5,547.6 167.5,544.3 175.5,544.3 183.5,544.3 191.5,544.3 199.5,546.0 207.5,547.2 215.5,547.2 223.5,549.8 231.5,552.0 239.5,553.2 247.5,557.6 255.5,559.4 263.5,558.7 271.5,558.7 279.5,558.7 287.5,558.7 295.5,558.7 303.5,558.7 311.5,558.7 319.5,561.0 327.5,559.8 335.5,559.4 343.5,559.4 351.5,559.2 359.5,559.4 367.5,558.0 375.5,555.4 383.5,553.2 391.5,552.5 399.5,552.5 407.5,554.3 415.5,555.8 423.5,557.6 431.5,560.2 439.5,562.4 447.5,561.0 455.5,559.4 463.5,558.7 471.5,557.0 479.5,555.4 487.5,554.3 495.5,555.4 503.5,556.5 511.5,557.0 519.5,558.7 527.5,559.4 535.5,559.8 543.5,561.0 551.5,561.0 559.5,561.0 567.5,559.8 575.5,559.0 583.5,557.0 591.5,555.9 599.5,553.8 607.5,550.8 615.5,548.4 623.5,542.8 631.5,539.0 639.5,536.2 647.5,533.0 655.5,528.5 663.5,525.8 671.5,523.6 679.5,522.5 687.5,522.0 695.5,520.3 703.5,519.2 711.5,519.2 719.5,521.4 727.5,521.4 735.5,519.2 743.5,517.4 751.5,517.4 759.5,518.5 767.5,518.5 775.5,515.2 783.5,513.0 791.5,511.4 799.5,511.4 807.5,510.3 815.5,507.0 823.5,504.0 831.5,501.0 839.5,501.0 847.5,500.0 855.5,496.0 863.5,492.6 871.5,488.9 879.5,481.6 887.5,479.4 895.5,475.0 903.5,481.6 911.5,487.0 919.5,492.6 927.5,498.2 935.5,507.0 943.5,517.0 951.5,527.0 959.5,530.7 967.5,534.2 975.5,537.5 983.5,543.5 991.5,546.8 999.5,549.0 1007.5,550.0 1015.5,546.0 1023.5,542.8 1031.5,538.4 1039.5,536.2 1047.5,536.9 1055.5,540.2 1063.5,542.0 1071.5,543.0 1079.5,544.2" fill="none" stroke="#ececec" stroke-width="1" shape-rendering="crispEdges" />
<polyline points="95.5,548.3 103.5,547.4 111.5,547.0 119.5,546.5 127.5,546.5 135.5,547.6 143.5,547.6 151.5,547.6 159.5,547.6 167.5,547.0 175.5,546.5 183.5,546.0 191.5,545.4 199.5,546.0 207.5,546.5 215.5,546.5 223.5,547.6 231.5,548.7 239.5,549.8 247.5,551.4 255.5,552.5 263.5,553.6 271.5,554.7 279.5,555.4 287.5,556.5 295.5,557.0 303.5,558.0 311.5,558.7 319.5,558.7 327.5,559.4 335.5,559.4 343.5,559.4 351.5,559.4 359.5,559.4 367.5,559.4 375.5,558.0 383.5,556.5 391.5,555.4 399.5,555.0 407.5,555.0 415.5,555.8 423.5,556.5 431.5,557.0 439.5,558.0 447.5,558.3 455.5,558.7 463.5,558.5 471.5,558.0 479.5,557.6 487.5,557.0 495.5,557.0 503.5,557.0 511.5,557.2 519.5,557.6 527.5,558.0 535.5,558.3 543.5,558.7 551.5,559.0 559.5,559.4 567.5,559.4 575.5,559.4 583.5,558.7 591.5,558.5 599.5,557.5 607.5,556.3 615.5,554.5 623.5,552.3 631.5,550.0 639.5,546.8 647.5,544.0 655.5,541.3 663.5,538.0 671.5,535.3 679.5,533.0 687.5,530.7 695.5,528.5 703.5,526.5 711.5,525.0 719.5,524.3 727.5,523.6 735.5,523.0 743.5,521.8 751.5,521.0 759.5,520.3 767.5,520.3 775.5,519.2 783.5,518.0 791.5,517.0 799.5,515.9 807.5,514.7 815.5,513.2 823.5,511.4 831.5,509.2 839.5,507.7 847.5,506.3 855.5,504.4 863.5,502.6 871.5,499.7 879.5,496.6 887.5,493.3 895.5,489.8 903.5,487.6 911.5,487.6 919.5,488.2 927.5,490.4 935.5,494.4 943.5,499.3 951.5,504.4 959.5,510.3 967.5,514.7 975.5,519.2 983.5,524.7 991.5,529.0 999.5,533.0 1007.5,536.2 1015.5,538.0 1023.5,539.0 1031.5,539.0 1039.5,538.0 1047.5,538.0 1055.5,539.5 1063.5,540.2 1071.5,540.8 1079.5,542.0" fill="none" stroke="#e3e31c" stroke-width="1" shape-rendering="crispEdges" />
<polyline points="95.5,660.2 103.5,661.0 111.5,658.5 119.5,660.5 127.5,669.9 135.5,673.8 143.5,677.5 151.5,675.5 159.5,668.7 167.5,662.4 175.5,665.3 183.5,670.4 191.5,675.1 199.5,678.0 207.5,680.6 215.5,683.5 223.5,691.6 231.5,695.9 239.5,699.3 247.5,703.5 255.5,700.1 263.5,691.6 271.5,682.6 279.5,680.6 287.5,675.1 295.5,671.2 303.5,675.5 311.5,676.3 319.5,674.6 327.5,667.5 335.5,668.7 343.5,674.3 351.5,670.9 359.5,672.6 367.5,669.9 375.5,661.0 383.5,655.6 391.5,661.5 399.5,671.2 407.5,683.1 415.5,693.3 423.5,698.4 431.5,705.2 439.5,707.3 447.5,696.7 455.5,687.4 463.5,676.3 471.5,669.5 479.5,660.5 487.5,656.8 495.5,664.4 503.5,669.5 511.5,672.1 519.5,684.8 527.5,695.9 535.5,702.7 543.5,709.5 551.5,703.5 559.5,702.3 567.5,684.8 575.5,673.8 583.5,664.1 591.5,656.8 599.5,652.9 607.5,650.8 615.5,649.5 623.5,648.3 631.5,648.3 639.5,650.0 647.5,648.3 655.5,647.1 663.5,650.3 671.5,650.8 679.5,652.5 687.5,653.4 695.5,650.3 703.5,649.1 711.5,655.6 719.5,663.6 727.5,663.6 735.5,655.9 743.5,655.6 751.5,660.2 759.5,661.0 767.5,659.3 775.5,653.9 783.5,651.7 791.5,651.3 799.5,652.5 807.5,650.3 815.5,648.3 823.5,647.1 831.5,647.4 839.5,652.5 847.5,653.9 855.5,650.3 863.5,650.0 871.5,648.3 879.5,646.0 887.5,653.4 895.5,651.7 903.5,665.8 911.5,675.1 919.5,681.4 927.5,687.4 935.5,698.1 943.5,702.7 951.5,706.9 959.5,705.2 967.5,703.9 975.5,699.3 983.5,701.8 991.5,698.9 999.5,696.7 1007.5,686.5 1015.5,672.6 1023.5,666.1 1031.5,658.8 1039.5,659.7 1047.5,667.0 1055.5,675.5 1063.5,681.4 1071.5,684.8 1079.5,688.2" fill="none" stroke="#ececec" stroke-width="1" shape-rendering="crispEdges" />
<polyline points="95.5,665.6 103.5,663.6 111.5,661.9 119.5,661.9 127.5,664.8 135.5,667.8 143.5,671.2 151.5,672.6 159.5,671.2 167.5,668.7 175.5,667.5 183.5,668.3 191.5,670.4 199.5,672.6 207.5,675.5 215.5,678.4 223.5,683.1 231.5,687.4 239.5,691.1 247.5,695.0 255.5,697.1 263.5,695.0 271.5,690.8 279.5,686.9 287.5,683.1 295.5,679.7 303.5,678.0 311.5,677.2 319.5,676.3 327.5,673.8 335.5,671.6 343.5,671.6 351.5,672.6 359.5,672.6 367.5,671.6 375.5,668.7 383.5,664.8 391.5,663.6 399.5,664.8 407.5,669.9 415.5,678.0 423.5,684.8 431.5,691.3 439.5,697.6 447.5,697.6 455.5,695.0 463.5,690.0 471.5,683.1 479.5,675.5 487.5,669.5 495.5,667.5 503.5,668.3 511.5,669.5 519.5,674.6 527.5,681.4 535.5,688.2 543.5,695.0 551.5,698.1 559.5,698.9 567.5,694.5 575.5,687.4 583.5,679.7 591.5,672.1 599.5,665.3 607.5,660.2 615.5,656.4 623.5,653.9 631.5,652.0 639.5,650.8 647.5,650.0 655.5,649.1 663.5,650.0 671.5,650.3 679.5,651.3 687.5,651.7 695.5,651.2 703.5,650.3 711.5,652.0 719.5,655.9 727.5,658.5 735.5,657.3 743.5,656.8 751.5,658.5 759.5,659.7 767.5,659.7 775.5,657.6 783.5,655.6 791.5,654.2 799.5,653.4 807.5,652.2 815.5,650.8 823.5,649.5 831.5,649.1 839.5,650.3 847.5,651.3 855.5,650.8 863.5,650.8 871.5,650.0 879.5,648.6 887.5,650.3 895.5,650.5 903.5,653.9 911.5,661.9 919.5,668.7 927.5,674.3 935.5,682.3 943.5,689.1 951.5,695.0 959.5,698.1 967.5,700.1 975.5,700.1 983.5,701.5 991.5,700.1 999.5,698.8 1007.5,694.5 1015.5,687.4 1023.5,680.6 1031.5,673.8 1039.5,669.2 1047.5,667.8 1055.5,670.4 1063.5,674.3 1071.5,677.2 1079.5,680.2" fill="none" stroke="#e3e31c" stroke-width="1" shape-rendering="crispEdges" />
<polyline points="95.5,652.0 103.5,657.3 111.5,652.0 119.5,660.2 127.5,682.3 135.5,687.4 143.5,690.8 151.5,681.4 159.5,664.4 167.5,650.3 175.5,664.0 183.5,673.8 191.5,682.3 199.5,686.0 207.5,690.0 215.5,694.5 223.5,711.2 231.5,712.9 239.5,715.8 247.5,720.5 255.5,708.6 263.5,684.8 271.5,664.4 279.5,669.5 287.5,660.0 295.5,654.6 303.5,670.4 311.5,674.3 319.5,669.9 327.5,654.6 335.5,659.3 343.5,677.2 351.5,671.2 359.5,672.9 367.5,667.0 375.5,649.5 383.5,638.6 391.5,659.3 399.5,678.0 407.5,705.2 415.5,722.2 423.5,724.3 431.5,732.1 439.5,729.0 447.5,699.3 455.5,678.0 463.5,652.9 471.5,644.0 479.5,635.0 487.5,633.3 495.5,659.3 503.5,670.4 511.5,674.6 519.5,710.3 527.5,724.8 535.5,729.0 543.5,734.1 551.5,715.4 559.5,707.8 567.5,666.1 575.5,650.8 583.5,633.0 591.5,627.3 599.5,628.2 607.5,631.3 615.5,635.5 623.5,635.9 631.5,639.3 639.5,646.2 647.5,644.0 655.5,643.5 663.5,650.8 671.5,652.5 679.5,655.1 687.5,656.3 695.5,649.1 703.5,647.1 711.5,661.0 719.5,679.4 727.5,672.9 735.5,653.9 743.5,653.9 751.5,664.4 759.5,664.4 767.5,660.2 775.5,646.6 783.5,643.5 791.5,644.9 799.5,652.0 807.5,646.6 815.5,642.8 823.5,641.1 831.5,642.3 839.5,657.6 847.5,657.6 855.5,648.6 863.5,649.1 871.5,645.2 879.5,641.1 887.5,659.3 895.5,652.5 903.5,680.6 911.5,698.4 919.5,707.8 927.5,712.0 935.5,731.1 943.5,730.4 951.5,731.1 959.5,717.1 967.5,712.0 975.5,697.6 983.5,706.4 991.5,698.4 999.5,691.3 1007.5,669.5 1015.5,641.1 1023.5,634.3 1031.5,630.4 1039.5,641.1 1047.5,666.1 1055.5,685.7 1063.5,695.9 1071.5,698.4 1079.5,701.5" fill="none" stroke="#e619e6" stroke-width="1" shape-rendering="crispEdges" />
<g shape-rendering="crispEdges">
<rect x="0" y="0" width="19" height="770" fill="#060606"/>
<rect x="0" y="0" width="1" height="771" fill="#262626"/>
<rect x="0" y="0" width="19" height="51" fill="#26272b"/>
<rect x="0" y="51" width="19" height="46" fill="#ff6a00"/>
<rect x="0" y="97" width="19" height="52" fill="#26272b"/>
<rect x="0" y="149" width="19" height="65" fill="#26272b"/>
<rect x="0" y="149" width="19" height="1" fill="#34353a"/>
<rect x="0" y="97" width="19" height="1" fill="#1c1c1e"/>
</g>
<text class="sv" x="9.5" y="17.2" fill="#c4c4c4" style="fill:#c4c4c4">分</text>
<text class="sv" x="9.5" y="32.0" fill="#c4c4c4" style="fill:#c4c4c4">时</text>
<text class="sv" x="9.5" y="45.8" fill="#c4c4c4" style="fill:#c4c4c4">图</text>
<text class="sv" x="9.5" y="80.1" fill="#ffffff" style="fill:#ffffff">线</text>
<text class="sv" x="9.5" y="93.8" fill="#ffffff" style="fill:#ffffff">图</text>
<text x="9.7" y="65.3" text-anchor="middle" style="fill:#ffffff;font-family:'Liberation Serif',serif;font-size:11px">K</text>
<text class="sv" x="9.5" y="116.5" fill="#c4c4c4" style="fill:#c4c4c4">闪</text>
<text class="sv" x="9.5" y="130.5" fill="#c4c4c4" style="fill:#c4c4c4">电</text>
<text class="sv" x="9.5" y="144.0" fill="#c4c4c4" style="fill:#c4c4c4">图</text>
<text class="sv" x="9.5" y="166.5" fill="#c4c4c4" style="fill:#c4c4c4">合</text>
<text class="sv" x="9.5" y="181.0" fill="#c4c4c4" style="fill:#c4c4c4">约</text>
<text class="sv" x="9.5" y="195.0" fill="#c4c4c4" style="fill:#c4c4c4">资</text>
<text class="sv" x="9.5" y="209.0" fill="#c4c4c4" style="fill:#c4c4c4">料</text>
<text x="92" y="14" style="fill:#e8e8e8;">现货黄金</text>
<text x="138" y="14" style="fill:#f26d0c;font-size:13px">【日线】</text>
<g fill="none" stroke="#e4630c" stroke-width="1"><circle cx="193.5" cy="11.5" r="4.2"/><path d="M189 11.5H198M193.5 7V16"/></g>
<g shape-rendering="crispEdges"><rect x="206" y="2" width="12" height="13" fill="#8c8c8c"/><rect x="205" y="1" width="12" height="13" fill="#1010d8"/><rect x="206" y="2" width="10" height="11" fill="#ffffff"/></g>
<polyline points="206,9 208.5,5.5 210.5,7.5 212.5,4.5 214,6.5 216,5.5" fill="none" stroke="#e81818" stroke-width="1.2"/>
<polyline points="206,11.5 208.5,8.5 210.5,10.5 212.5,8 214,9.5 216,9" fill="none" stroke="#1818e0" stroke-width="1.2"/>
<text x="221" y="14" textLength="60.4" lengthAdjust="spacing" style="fill:#e8e8e8;">BOLL(21,2)</text>
<text x="286.5" y="14" textLength="71.8" lengthAdjust="spacing" style="fill:#e8e8e8;">MID:4047.15</text>
<text x="367.5" y="14" textLength="85.2" lengthAdjust="spacing" style="fill:#c8d020;">UPPER:4201.95</text>
<text x="461" y="14" textLength="90.2" lengthAdjust="spacing" style="fill:#e020e0;">LOWER:3892.35</text>
<text x="92.5" y="467" textLength="84.8" lengthAdjust="spacing" style="fill:#e8e8e8;">MACD(26,12,9)</text>
<text x="182.5" y="467" textLength="58" lengthAdjust="spacing" style="fill:#e8e8e8;">DIFF:31.10</text>
<text x="249.5" y="467" textLength="57" lengthAdjust="spacing" style="fill:#d4d420;">DEA:37.26</text>
<text x="315" y="467" textLength="75.2" lengthAdjust="spacing" style="fill:#e020e0;">MACD:-12.32</text>
<text x="92.5" y="619" style="fill:#e8e8e8;">KDJ(9,3,3)</text>
<text x="154" y="619" style="fill:#e8e8e8;">K:43.09</text>
<text x="203.5" y="619" style="fill:#d4d420;">D:51.55</text>
<text x="254" y="619" style="fill:#e020e0;">J:26.18</text>
<text x="86.4" y="24.7" class="ax" text-anchor="end" style="fill:#f0f0f0;">4517.30</text>
<text x="1109.5" y="24.7" class="ax" style="fill:#f0f0f0;">4517.30</text>
<text x="86.4" y="78.7" class="ax" text-anchor="end" style="fill:#f0f0f0;">4347.51</text>
<text x="1109.5" y="78.7" class="ax" style="fill:#f0f0f0;">4347.51</text>
<text x="86.4" y="132.7" class="ax" text-anchor="end" style="fill:#f0f0f0;">4177.73</text>
<text x="1109.5" y="132.7" class="ax" style="fill:#f0f0f0;">4177.73</text>
<text x="86.4" y="186.7" class="ax" text-anchor="end" style="fill:#f0f0f0;">4007.94</text>
<text x="1109.5" y="186.7" class="ax" style="fill:#f0f0f0;">4007.94</text>
<text x="86.4" y="240.7" class="ax" text-anchor="end" style="fill:#f0f0f0;">3838.16</text>
<text x="1109.5" y="240.7" class="ax" style="fill:#f0f0f0;">3838.16</text>
<text x="86.4" y="294.7" class="ax" text-anchor="end" style="fill:#f0f0f0;">3668.37</text>
<text x="1109.5" y="294.7" class="ax" style="fill:#f0f0f0;">3668.37</text>
<text x="86.4" y="348.7" class="ax" text-anchor="end" style="fill:#f0f0f0;">3498.58</text>
<text x="1109.5" y="348.7" class="ax" style="fill:#f0f0f0;">3498.58</text>
<text x="86.4" y="402.7" class="ax" text-anchor="end" style="fill:#f0f0f0;">3328.80</text>
<text x="1109.5" y="402.7" class="ax" style="fill:#f0f0f0;">3328.80</text>
<text x="86.4" y="477.7" class="ax" text-anchor="end" style="fill:#f0f0f0;">170.16</text>
<text x="1109.5" y="477.7" class="ax" style="fill:#f0f0f0;">170.16</text>
<text x="86.4" y="503.7" class="ax" text-anchor="end" style="fill:#f0f0f0;">118.06</text>
<text x="1109.5" y="503.7" class="ax" style="fill:#f0f0f0;">118.06</text>
<text x="86.4" y="529.7" class="ax" text-anchor="end" style="fill:#f0f0f0;">65.96</text>
<text x="1109.5" y="529.7" class="ax" style="fill:#f0f0f0;">65.96</text>
<text x="86.4" y="555.7" class="ax" text-anchor="end" style="fill:#f0f0f0;">13.86</text>
<text x="1109.5" y="555.7" class="ax" style="fill:#f0f0f0;">13.86</text>
<text x="86.4" y="581.7" class="ax" text-anchor="end" style="fill:#f0f0f0;">-38.24</text>
<text x="1109.5" y="581.7" class="ax" style="fill:#f0f0f0;">-38.24</text>
<text x="86.4" y="629.7" class="ax" text-anchor="end" style="fill:#f0f0f0;">118.68</text>
<text x="1109.5" y="629.7" class="ax" style="fill:#f0f0f0;">118.68</text>
<text x="86.4" y="656.7" class="ax" text-anchor="end" style="fill:#f0f0f0;">85.00</text>
<text x="1109.5" y="656.7" class="ax" style="fill:#f0f0f0;">85.00</text>
<text x="86.4" y="683.7" class="ax" text-anchor="end" style="fill:#f0f0f0;">51.33</text>
<text x="1109.5" y="683.7" class="ax" style="fill:#f0f0f0;">51.33</text>
<text x="86.4" y="710.7" class="ax" text-anchor="end" style="fill:#f0f0f0;">17.65</text>
<text x="1109.5" y="710.7" class="ax" style="fill:#f0f0f0;">17.65</text>
<text x="180.3" y="358" class="b" style="fill:#eb4d5c;font-size:12.4px">3451.14</text>
<text x="260.2" y="436.8" class="b" style="fill:#53b987;font-size:12.4px">3247.87</text>
<text x="899.7" y="62" class="b" style="fill:#eb4d5c;font-size:12.4px">4381.29</text>
<g shape-rendering="crispEdges"><rect x="1166" y="151" width="9" height="9" fill="#000"/></g>
<path d="M1170.5 151L1175 155.5H1166ZM1170.5 155L1175 159.5H1166Z" fill="#f0a030"/>
<rect x="1106.5" y="159.5" width="68" height="17.5" rx="1.5" fill="#000" stroke="#f0a030" stroke-width="1"/>
<text x="1109.5" y="172.6" class="ax" style="fill:#f0a030;">4086.15</text>
<rect x="1043.5" y="1.5" width="13" height="13" fill="#000" stroke="#b0b0b0" stroke-width="1" shape-rendering="crispEdges"/>
<rect x="1059.5" y="1.5" width="13" height="13" fill="#000" stroke="#b0b0b0" stroke-width="1" shape-rendering="crispEdges"/>
<rect x="1075.5" y="1.5" width="13" height="13" fill="#000" stroke="#b0b0b0" stroke-width="1" shape-rendering="crispEdges"/>
<rect x="1091.5" y="1.5" width="13" height="13" fill="#000" stroke="#b0b0b0" stroke-width="1" shape-rendering="crispEdges"/>
<g fill="#9c9c9c" shape-rendering="crispEdges"><rect x="1049" y="3" width="2" height="3"/><rect x="1049" y="10" width="2" height="3"/><rect x="1045" y="7" width="3" height="2"/><rect x="1052" y="7" width="3" height="2"/><rect x="1049" y="7" width="2" height="2"/></g>
<g fill="#9c9c9c" shape-rendering="crispEdges"><rect x="1062" y="4" width="1" height="9"/><rect x="1061" y="11" width="10" height="1"/><rect x="1065" y="4" width="1" height="6"/></g>
<path d="M1062.5 2.8L1063.9 5H1061.1ZM1071.6 11.5L1069.5 10.1V12.9ZM1060.6 11.5L1062 10.4V12.6ZM1069.3 3.8V9.4L1066.4 6.6Z" fill="#9c9c9c"/>
<g fill="#9c9c9c" shape-rendering="crispEdges"><rect x="1078" y="4" width="1" height="9"/><rect x="1077" y="11" width="10" height="1"/></g>
<path d="M1078.5 2.8L1079.9 5H1077.1ZM1087.6 11.5L1085.5 10.1V12.9ZM1076.6 11.5L1078 10.4V12.6ZM1081.6 3.8V10.4L1086.2 7.1Z" fill="#9c9c9c"/>
<g stroke="#9c9c9c" stroke-width="1" fill="none" shape-rendering="crispEdges"><rect x="1093.5" y="3.5" width="2" height="9"/></g><rect x="1096" y="7" width="4" height="1" fill="#9c9c9c" shape-rendering="crispEdges"/><path d="M1099 5L1102.2 7.5L1099 10Z" fill="#9c9c9c"/>
<g><circle cx="28.5" cy="611.5" r="4.3" fill="#000"/><circle cx="28.5" cy="611.5" r="3.3" fill="#fff"/><circle cx="28.5" cy="611.5" r="1.8" fill="#ff0000"/><g fill="#ff0000" shape-rendering="crispEdges"><rect x="28" y="605" width="1" height="2"/><rect x="28" y="616" width="1" height="2"/><rect x="22" y="611" width="2" height="1"/><rect x="33" y="611" width="2" height="1"/></g><g stroke="#ff0000" stroke-width="1.3"><path d="M23.8 606.8L25.2 608.2M31.8 614.8L33.2 616.2M23.8 616.2L25.2 614.8M31.8 608.2L33.2 606.8"/></g></g>
<text x="97" y="748" class="b" style="fill:#ffffff;font-size:12.3px">2025/06</text>
<text x="265" y="748" class="b" style="fill:#ffffff;font-size:12.3px">2025/07</text>
<text x="449" y="748" class="b" style="fill:#ffffff;font-size:12.3px">2025/08</text>
<text x="617" y="748" class="b" style="fill:#ffffff;font-size:12.3px">2025/09</text>
<text x="793" y="748" class="b" style="fill:#ffffff;font-size:12.3px">2025/10</text>
<text x="977" y="748" class="b" style="fill:#ffffff;font-size:12.3px">2025/11</text>
<text x="34" y="750.5" class="b" style="fill:#ff6a00;font-size:12.5px">日线</text>
<path d="M69 742.5L73.5 750.5H64.5Z" fill="#ff6a00"/>
<text x="1047.3" y="744.9" style="fill:#eaeefc;font-size:30px;letter-spacing:2.1px;stroke:#eaeefc;stroke-width:0.35px">FX678</text>
<g shape-rendering="crispEdges">
<rect x="20" y="755" width="39" height="15" fill="#000"/>
<rect x="60" y="755" width="39" height="15" fill="#ff6a00"/>
<rect x="100" y="755" width="57" height="15" fill="#000"/>
<rect x="158" y="755" width="39" height="15" fill="#000"/>
<rect x="198" y="755" width="39" height="15" fill="#000"/>
<rect x="238" y="755" width="39" height="15" fill="#000"/>
<rect x="278" y="755" width="63" height="15" fill="#ff6a00"/>
<rect x="342" y="755" width="63" height="15" fill="#000"/>
</g>
<text class="tb" x="39.5" y="767.6" text-anchor="middle" style="fill:#ffffff">指标</text>
<text class="tb" x="79.5" y="767.6" text-anchor="middle" style="fill:#ffffff">模板</text>
<text class="mono" x="108.3" y="767.6" textLength="17.5" lengthAdjust="spacingAndGlyphs" style="fill:#ff7a10">VIP</text>
<text class="tb" x="137.5" y="767.6" text-anchor="middle" style="fill:#ff7a10">指标</text>
<text class="tb" x="177.5" y="767.6" text-anchor="middle" style="fill:#d4d4d4">标准</text>
<text class="mono" x="206" y="767.6" textLength="23.4" lengthAdjust="spacingAndGlyphs" style="fill:#d4d4d4">BULL</text>
<text class="mono" x="245.6" y="767.6" textLength="23.4" lengthAdjust="spacingAndGlyphs" style="fill:#d4d4d4">MACD</text>
<text class="tb" x="309.5" y="767.6" text-anchor="middle" style="fill:#ffffff">另存模板</text>
<text class="tb" x="373" y="767.6" text-anchor="middle" style="fill:#e4e4e4">管理模板</text>
</svg></body></html>
